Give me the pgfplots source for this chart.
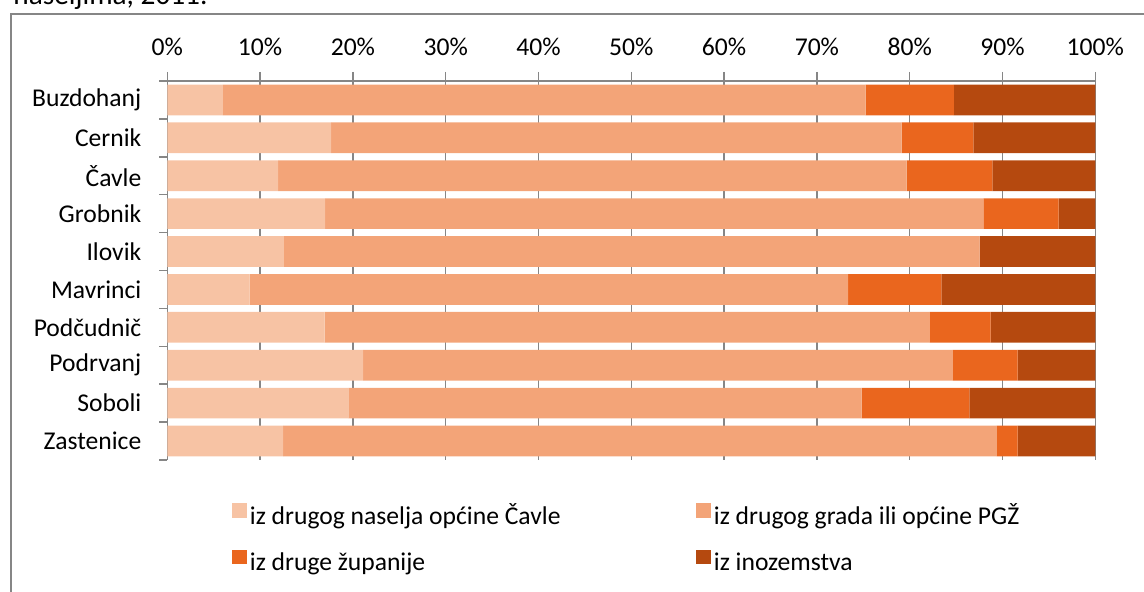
\documentclass[border=0pt]{standalone}
\usepackage{pgfplots}
\pgfplotsset{compat=1.18}
\usepackage{pgfplotstable}
\usepackage{fontspec}
\setmainfont{Carlito}
\definecolor{c1}{HTML}{F7C3A4}
\definecolor{c2}{HTML}{F3A478}
\definecolor{c3}{HTML}{EA661E}
\definecolor{c4}{HTML}{B5490F}
\definecolor{axg}{RGB}{134,134,134}
\pgfplotstableread{
y a b c d
0 12.48 76.91 2.23 8.38
1 19.50 55.32 11.62 13.56
2 21.10 63.54 6.98 8.38
3 16.94 65.22 6.55 11.29
4 8.88 64.47 10.07 16.58
5 12.55 74.97 0 12.48
6 17.00 70.95 8.09 3.96
7 11.94 67.74 9.24 11.08
8 17.66 61.48 7.73 13.13
9 6.00 69.25 9.50 15.25
}\data
\newcommand{\lgst}{\rule[-7.6pt]{0pt}{23pt}}
\begin{document}
\begin{tikzpicture}
\useasboundingbox (0pt,0pt) rectangle (572pt,296pt);
\clip (0pt,0pt) rectangle (572pt,296pt);
\node[anchor=base west, inner sep=0pt, font=\fontsize{14.65}{17}\selectfont] at (6.5pt,293.5pt) {naseljima, 2011.};
\draw[axg, line width=0.75pt] (5.5pt,-5pt) -- (5.5pt,289pt) -- (580pt,289pt);
\begin{axis}[
  at={(83.65pt,66pt)}, anchor=south west, scale only axis,
  width=464pt, height=189.5pt,
  xbar stacked, bar width=0.81,
  legend image code/.code={\fill[#1] (0pt,-3.65pt) rectangle (7.3pt,3.65pt);},
  xmin=0, xmax=100, ymin=-0.5, ymax=9.5,
  axis x line*=top, axis y line*=left,
  axis line style={axg, line width=0.75pt, -},
  xtick={0,10,...,100},
  xticklabels={0\%,10\%,20\%,30\%,40\%,50\%,60\%,70\%,80\%,90\%,100\%},
  xmajorgrids, major grid style={axg, line width=0.75pt},
  tick align=outside, major tick length=4.5pt, minor tick length=4pt,
  major x tick style={axg, line width=0.75pt},
  major y tick style={draw=none},
  minor y tick style={axg, line width=0.75pt},
  ytick={0,...,9},
  yticklabels={Zastenice,Soboli,Podrvanj,Podčudnič,Mavrinci,Ilovik,Grobnik,Čavle,Cernik,Buzdohanj},
  minor ytick={-0.5,0.5,...,9.5},
  tick label style={font=\fontsize{12.8}{15}\selectfont},
  xticklabel style={inner sep=0pt, yshift=8pt},
  yticklabel style={inner sep=0pt, xshift=-8.3pt},
  legend columns=2,
  legend style={at={(rel axis cs:0.0632,-0.0765)}, anchor=north west, draw=none, fill=none,
    nodes={inner sep=0pt}, font=\fontsize{12.8}{15}\selectfont, row sep=6.5pt,
    /tikz/every even column/.append style={column sep=0pt}},
]
\addplot[fill=c1, draw=none] table[x=a, y=y]{\data};
\addlegendentry{\makebox[224.7pt][l]{\hspace{1.5pt}iz drugog naselja općine Čavle\lgst}}
\addplot[fill=c2, draw=none] table[x=b, y=y]{\data};
\addlegendentry{\makebox[200pt][l]{\hspace{1.5pt}iz drugog grada ili općine PGŽ\lgst}}
\addplot[fill=c3, draw=none] table[x=c, y=y]{\data};
\addlegendentry{\makebox[224.7pt][l]{\hspace{1.5pt}iz druge županije\lgst}}
\addplot[fill=c4, draw=none] table[x=d, y=y]{\data};
\addlegendentry{\makebox[200pt][l]{\hspace{1.5pt}iz inozemstva\lgst}}
\end{axis}
\end{tikzpicture}
\end{document}
